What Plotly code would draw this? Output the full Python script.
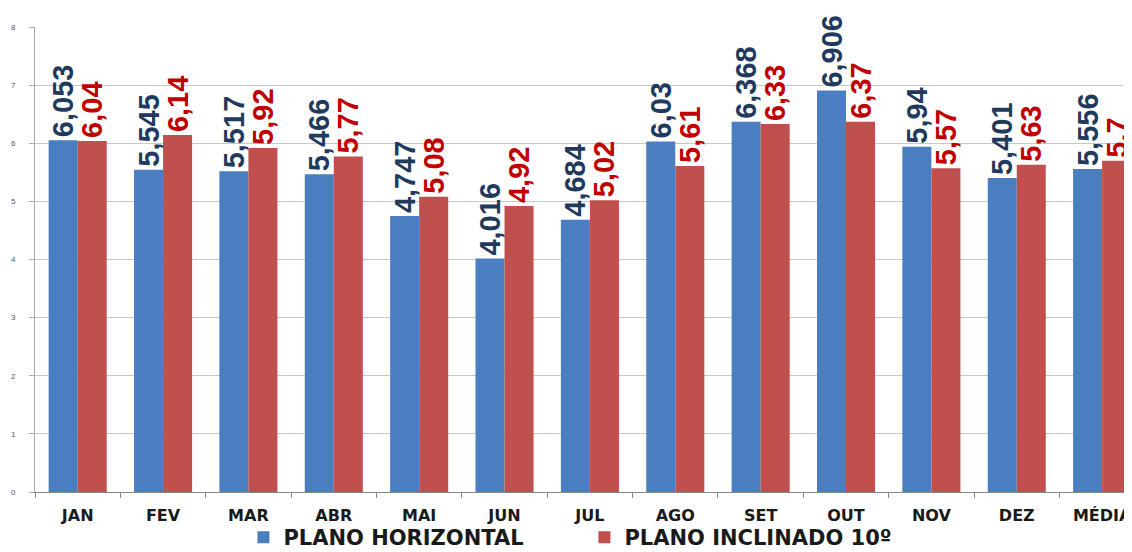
import plotly.graph_objects as go

categories = ["JAN", "FEV", "MAR", "ABR", "MAI", "JUN", "JUL", "AGO", "SET", "OUT", "NOV", "DEZ", "MÉDIA"]
horizontal = [6.053, 5.545, 5.517, 5.466, 4.747, 4.016, 4.684, 6.03, 6.368, 6.906, 5.94, 5.401, 5.556]
inclinado = [6.04, 6.14, 5.92, 5.77, 5.08, 4.92, 5.02, 5.61, 6.33, 6.37, 5.57, 5.63, 5.7]
y_ticks = [0, 1, 2, 3, 4, 5, 6, 7, 8]


def fmt(v):
    return ("%g" % v).replace(".", ",")


fig = go.Figure()
fig.add_trace(go.Bar(
    x=categories, y=horizontal, name="PLANO HORIZONTAL",
    marker=dict(color="#4A7EC1", line=dict(width=0)),
    text=[fmt(v) for v in horizontal], textposition="outside", textangle=-90,
    textfont=dict(family="Liberation Sans, Arial", size=29, color="#1F3A5C", weight="bold"),
    constraintext="none", cliponaxis=False,
))
fig.add_trace(go.Bar(
    x=categories, y=inclinado, name="PLANO INCLINADO 10º",
    marker=dict(color="#C0504D", line=dict(width=0)),
    text=[fmt(v) for v in inclinado], textposition="outside", textangle=-90,
    textfont=dict(family="Liberation Sans, Arial", size=29, color="#C00000", weight="bold"),
    constraintext="none", cliponaxis=False,
))

# the page body adds an 8px margin, so the figure is sized 8px smaller
fig.update_layout(
    width=1124, height=544,
    margin=dict(l=27, r=0, t=19, b=60, autoexpand=False),
    paper_bgcolor="white", plot_bgcolor="white",
    barmode="group", bargap=0.32, bargroupgap=0,
    showlegend=True,
    legend=dict(
        orientation="h", x=0.19, xanchor="left", y=-0.098, yanchor="middle",
        font=dict(family="DejaVu Sans, Verdana", size=21, color="#1A1A1A", weight="bold"),
        entrywidth=296, entrywidthmode="pixels",
        itemsizing="constant", bgcolor="rgba(0,0,0,0)",
    ),
    xaxis=dict(
        range=[-0.5, 12.35],
        tickfont=dict(family="DejaVu Sans, Verdana", size=16, color="#1A1A1A", weight="bold"),
        ticks="outside", tickson="boundaries", ticklen=5, tickcolor="#888888",
        ticklabelstandoff=9,
        showline=True, linecolor="#888888", linewidth=1,
        showgrid=False,
    ),
    yaxis=dict(
        range=[0, 8], tickvals=y_ticks,
        tickfont=dict(family="Liberation Sans, Arial", size=8, color="#555555"),
        ticks="outside", ticklen=5, tickcolor="#AAAAAA",
        ticklabelstandoff=12,
        showline=True, linecolor="#AAAAAA", linewidth=1,
        showgrid=True, gridcolor="#C8C8C8", gridwidth=1,
        zeroline=False,
    ),
)

fig.write_html("out.html")
